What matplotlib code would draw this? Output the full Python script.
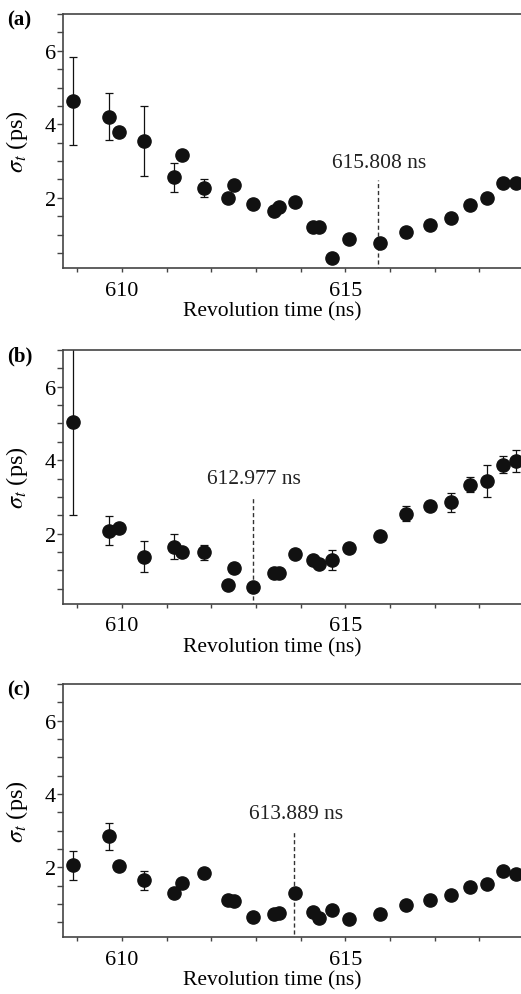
import matplotlib
matplotlib.use("Agg")
import matplotlib.pyplot as plt
from matplotlib.ticker import MultipleLocator

plt.rcParams['font.family'] = ['Liberation Serif', 'DejaVu Serif']
plt.rcParams['mathtext.fontset'] = 'stix'

# revolution times (ns), shared by all three panels
t_rev = [608.90, 609.71, 609.93, 610.50, 611.16, 611.34, 611.83, 612.38, 612.51,
         612.94, 613.40, 613.52, 613.87, 614.28, 614.40, 614.69, 615.09, 615.77,
         616.35, 616.89, 617.36, 617.78, 618.16, 618.52, 618.82]

sig_a = [4.63, 4.21, 3.79, 3.55, 2.56, 3.16, 2.27, 2.00, 2.36, 1.82, 1.65, 1.76,
         1.89, 1.21, 1.21, 0.36, 0.87, 0.78, 1.08, 1.26, 1.45, 1.81, 1.99, 2.40, 2.40]
err_a = [1.20, 0.64, 0, 0.95, 0.39, 0, 0.25, 0, 0, 0, 0, 0,
         0, 0, 0, 0, 0, 0, 0, 0, 0, 0, 0.10, 0, 0]

sig_b = [5.03, 2.08, 2.15, 1.38, 1.64, 1.49, 1.49, 0.60, 1.07, 0.56, 0.94, 0.92,
         1.46, 1.28, 1.18, 1.28, 1.62, 1.94, 2.54, 2.75, 2.85, 3.33, 3.44, 3.88, 3.97]
err_b = [2.51, 0.39, 0, 0.42, 0.34, 0, 0.20, 0, 0, 0, 0, 0,
         0, 0, 0, 0.27, 0, 0, 0.20, 0, 0.25, 0.21, 0.43, 0.22, 0.30]

sig_c = [2.05, 2.84, 2.03, 1.64, 1.30, 1.58, 1.84, 1.10, 1.07, 0.64, 0.73, 0.76,
         1.31, 0.78, 0.61, 0.84, 0.58, 0.72, 0.97, 1.11, 1.25, 1.46, 1.53, 1.89, 1.81]
err_c = [0.40, 0.37, 0, 0.27, 0, 0, 0, 0, 0, 0, 0, 0,
         0, 0, 0, 0, 0, 0, 0, 0, 0, 0, 0, 0, 0]

panels = ['(a)', '(b)', '(c)']
min_labels = ['615.808 ns', '612.977 ns', '613.889 ns']
line_x = [615.73, 612.93, 613.86]   # as drawn in the figure
line_top = [2.49, 3.03, 2.98]
series = [(sig_a, err_a), (sig_b, err_b), (sig_c, err_c)]

fig = plt.figure(figsize=(5.21, 9.95), dpi=100)
boxes = [[0.121, 0.7296, 0.885, 0.2553],
         [0.121, 0.392, 0.885, 0.2555],
         [0.121, 0.057, 0.885, 0.2546]]
tops = [15, 351, 685]

for i in range(3):
    ax = fig.add_axes(boxes[i])
    s, e = series[i]
    ax.errorbar(t_rev, s, yerr=e, fmt='o', color='#111111', ms=9.5,
                ecolor='#111111', elinewidth=0.9, capsize=2.6, capthick=0.9)
    ax.plot([line_x[i], line_x[i]], [0, line_top[i]], color='#333333', lw=1.0,
            ls=(0, (3, 2)))
    ax.text(line_x[i] + 0.03, line_top[i] + 0.22, min_labels[i], ha='center',
            va='bottom', fontsize=15.5, color='#222222')
    ax.set_xlim(608.68, 619.0)
    ax.set_ylim(0.09, 7.0)
    ax.xaxis.set_major_locator(MultipleLocator(5))
    ax.xaxis.set_minor_locator(MultipleLocator(1))
    ax.yaxis.set_major_locator(MultipleLocator(2))
    ax.yaxis.set_minor_locator(MultipleLocator(0.5))
    ax.set_yticks([2, 4, 6])
    ax.tick_params(axis='x', which='both', direction='out', length=3, width=1.0,
                   color='#444444', labelsize=16, pad=6)
    ax.tick_params(axis='y', which='both', direction='out', length=4, width=1.0,
                   color='#444444', labelsize=16, pad=1)
    for side in ['left', 'top', 'bottom']:
        ax.spines[side].set_color('#444444')
        ax.spines[side].set_linewidth(1.2)
    ax.spines['right'].set_visible(False)
    ax.set_xlabel('Revolution time (ns)', fontsize=15.5)
    ax.xaxis.set_label_coords(0.453, -0.13)
    ax.set_ylabel(r'$\sigma_t$ (ps)', fontsize=17.5)
    ax.yaxis.set_label_coords(-0.072, 0.5)
    fig.text(7 / 521, 1 - (tops[i] + 5) / 995, panels[i], fontsize=15,
             fontweight='bold', ha='left', va='center')

fig.savefig('out.png', dpi=100)
